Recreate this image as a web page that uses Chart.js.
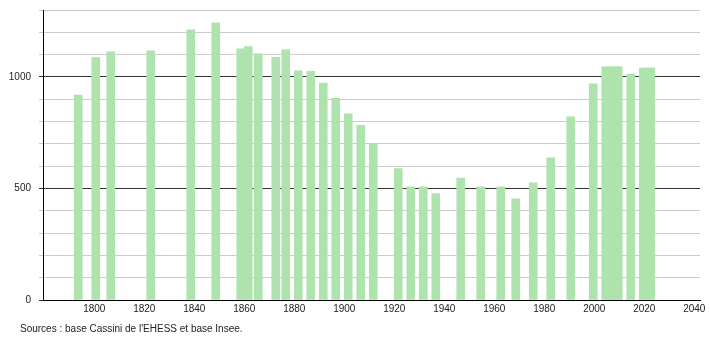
<!DOCTYPE html>
<html>
<head>
<meta charset="utf-8">
<script src="https://cdn.jsdelivr.net/npm/chart.js@4/dist/chart.umd.min.js"></script>
<style>
  html, body { margin: 0; padding: 0; background: #fff; }
  #wrap { position: relative; width: 710px; height: 340px; }
</style>
</head>
<body>
<div id="wrap"><canvas id="pop"></canvas></div>
<script>
// Population par année de recensement
const annees = [1793, 1800, 1806, 1822, 1838, 1848, 1858, 1861, 1865, 1872, 1876, 1881, 1886, 1891, 1896, 1901, 1906, 1911,
                1921, 1926, 1931, 1936, 1946, 1954, 1962, 1968, 1975, 1982, 1990, 1999, 2004, 2006, 2008, 2009, 2014, 2019, 2022];
const population = [919, 1087, 1112, 1117, 1211, 1242, 1126, 1136, 1103, 1088, 1121, 1027, 1025, 972, 904, 834, 783, 698,
                    589, 507, 507, 477, 546, 507, 507, 453, 525, 637, 821, 969, 1045, 1045, 1045, 1045, 1013, 1040, 1041];
const anneesGraduees = [1800, 1820, 1840, 1860, 1880, 1900, 1920, 1940, 1960, 1980, 2000, 2020, 2040];
const valeursGraduees = [0, 500, 1000];
const source = "Sources : base Cassini de l'EHESS et base Insee.";

const police = { family: "'Liberation Sans', Arial, sans-serif", size: 10 };

// Texte des sources sous le graphique
const sourcesPlugin = {
    id: 'sources',
    afterDraw(chart) {
        const ctx = chart.ctx;
        ctx.save();
        ctx.font = "10px 'Liberation Sans', Arial, sans-serif";
        ctx.fillStyle = '#222';
        ctx.textBaseline = 'middle';
        ctx.fillText(source, 20, 329);
        ctx.restore();
    }
};

new Chart(document.getElementById('pop'), {
    type: 'bar',
    data: {
        datasets: [{
            data: annees.map((a, i) => ({ x: a, y: population[i] })),
            backgroundColor: '#aee3ae',
            borderWidth: 0,
            barThickness: 8
        }]
    },
    options: {
        responsive: true,
        maintainAspectRatio: false,
        animation: false,
        layout: { padding: { top: 10, right: 10, bottom: 20, left: 0 } },
        plugins: {
            legend: { display: false },
            tooltip: { enabled: false }
        },
        scales: {
            x: {
                type: 'linear',
                offset: false,
                min: 1778.9,
                max: 2041.7,
                grid: { display: false, drawTicks: false },
                border: { display: true, color: '#000', width: 1 },
                afterBuildTicks: function(scale) {
                    scale.ticks = anneesGraduees.map(v => ({ value: v }));
                },
                afterFit: function(scale) { scale.height = 20; },
                ticks: {
                    autoSkip: false,
                    maxRotation: 0,
                    padding: 3,
                    labelOffset: -1.5,
                    color: '#222',
                    font: police,
                    callback: v => String(v)
                }
            },
            y: {
                min: 0,
                max: 1300,
                grid: {
                    color: c => valeursGraduees.includes(c.tick.value) ? '#333' : '#ccc',
                    tickColor: c => valeursGraduees.includes(c.tick.value) ? '#333' : '#ccc',
                    tickLength: 4,
                    lineWidth: 1
                },
                border: { display: true, color: '#000', width: 1 },
                afterFit: function(scale) {
                    scale.width = 43;
                    scale.paddingTop = 0;
                    scale.paddingBottom = 0;
                },
                ticks: {
                    stepSize: 100,
                    padding: 8,
                    color: '#222',
                    font: police,
                    callback: v => valeursGraduees.includes(v) ? String(v) : ''
                }
            }
        }
    },
    plugins: [sourcesPlugin]
});
</script>
</body>
</html>
